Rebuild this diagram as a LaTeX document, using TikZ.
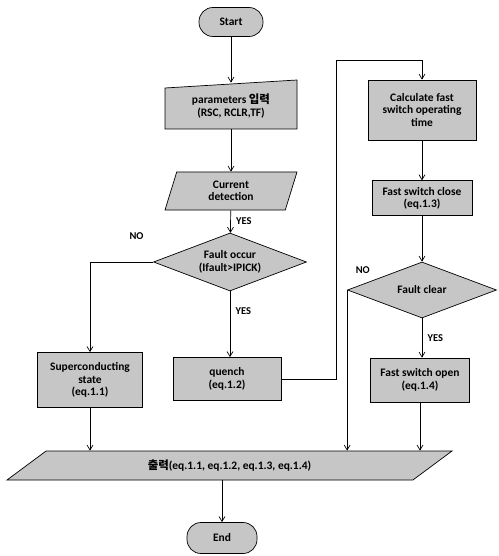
\documentclass[tikz,border=0pt]{standalone}
\usepackage{fontspec}
\setmainfont{Carlito}
\newfontfamily\kr{Noto Sans CJK KR}
\usetikzlibrary{arrows.meta,positioning,shapes.geometric,calc}

\begin{document}
\begin{tikzpicture}[x=1bp, y=-1bp, line width=0.7bp, font=\fontsize{11.5}{12.5}\selectfont\bfseries,
    box/.style={draw, fill=gray!45, align=center, inner sep=1bp},
    term/.style={box, rounded corners=14bp, minimum width=64bp, minimum height=29bp},
    cond/.style={box, diamond, aspect=2.6},
    io/.style={box, trapezium, trapezium stretches body},
    arr/.style={-{Straight Barb[length=5bp,width=6bp]}},
    lbl/.style={font=\fontsize{10.5}{11}\selectfont\bfseries}]
        \useasboundingbox[fill=white] (0,0) rectangle (499,556);

        % Coluna principal
        \node[term] (start) at (231,22) {Start};
        \fill[gray!45, draw=black] (165,88) -- (297,80) -- (297,129) -- (165,129) -- cycle;
        \node[align=center, minimum width=132bp, minimum height=46bp] (params) at (231,106) {parameters {\kr 입력}\\(RSC, RCLR,TF)};
        \node[io, trapezium left angle=62, trapezium right angle=118, minimum width=132bp, minimum height=38bp] (detect) at (231,191) {Current\\detection};
        \node[cond, minimum width=153bp, minimum height=58bp] (fault) at (230,262) {Fault occur\\(Ifault>IPICK)};
        \node[box, minimum width=105bp, minimum height=55bp] (sc) at (90,380) {Superconducting\\state\\(eq.1.1)};
        \node[box, minimum width=108bp, minimum height=43bp] (quench) at (227,379) {quench\\(eq.1.2)};

        % Coluna da direita
        \node[box, minimum width=108bp, minimum height=60bp] (calc) at (422,110) {Calculate fast\\switch operating\\time};
        \node[box, minimum width=100bp, minimum height=35bp, below=40bp of calc] (close) {Fast switch close\\(eq.1.3)};
        \node[cond, minimum width=149bp, minimum height=56bp] (clear) at (422,290) {Fault clear};
        \node[box, minimum width=99bp, minimum height=44bp] (open) at (420,380) {Fast switch open\\(eq.1.4)};

        % Saida e fim
        \node[io, trapezium left angle=19, trapezium right angle=161, minimum width=445bp, minimum height=29bp] (out) at (229.5,465.5) {{\kr 출력}(eq.1.1, eq.1.2, eq.1.3, eq.1.4)};
        \node[term, minimum width=70bp, minimum height=31bp] (end) at (222,538) {End};
        \coordinate (turn) at (336,60);

        % Setas
        \draw[arr] (start) -- (params);
        \draw[arr] (params.south) -- (detect.north -| params.south);
        \draw[arr] (detect) -- (fault) node[midway, right=2bp, lbl] {YES};
        \draw[arr] (fault.west) -| (sc.north);
        \node[lbl, above left=19bp and 6bp of fault.west] {NO};
        \draw[arr] (fault) -- (fault |- quench.north) node[pos=0.3, right=2bp, lbl] {YES};
        \draw[arr] (quench.east) -| (turn) -| (calc.north);
        \draw[arr] (calc) -- (close);
        \draw[arr] (close) -- (clear);
        \draw[arr] (clear) -- (clear |- open.north) node[midway, right=2bp, lbl] {YES};
        \draw[arr] (clear.west) -- (clear.west |- out.north);
        \node[lbl, above right=13bp and 5bp of clear.west] {NO};
        \draw[arr] (sc) -- (sc |- out.north);
        \draw[arr] (open) -- (open |- out.north);
        \draw[arr] (end.north |- out.south) -- (end);
    \end{tikzpicture}
\end{document}
